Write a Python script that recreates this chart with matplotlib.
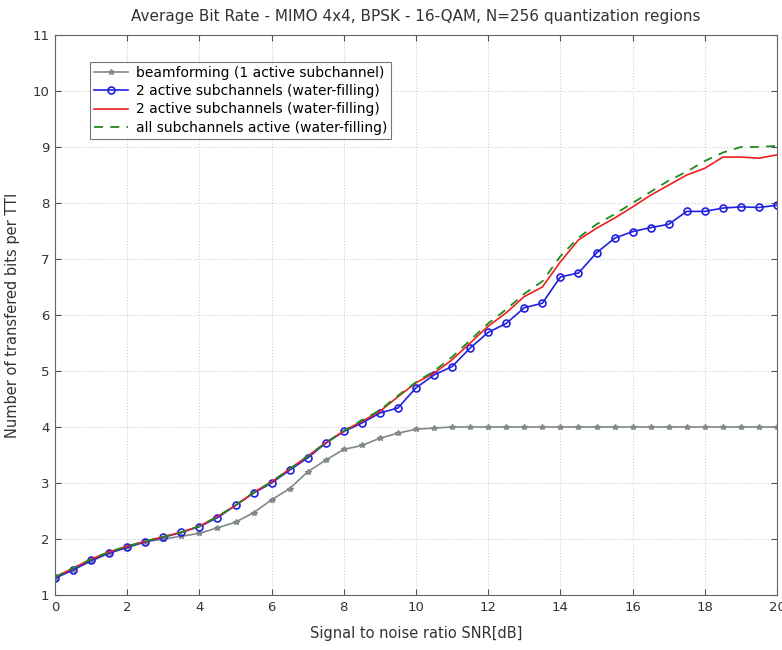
import numpy as np
import matplotlib
matplotlib.use("Agg")
import matplotlib.pyplot as plt

plt.rcParams['font.family'] = ['DejaVu Sans']

snr = [0, 0.5, 1, 1.5, 2, 2.5, 3, 3.5, 4, 4.5, 5, 5.5, 6, 6.5, 7, 7.5, 8, 8.5, 9, 9.5,
       10, 10.5, 11, 11.5, 12, 12.5, 13, 13.5, 14, 14.5, 15, 15.5, 16, 16.5, 17, 17.5,
       18, 18.5, 19, 19.5, 20]

beamforming = [1.30, 1.45, 1.60, 1.75, 1.85, 1.95, 2.00, 2.05, 2.10, 2.20, 2.30, 2.47, 2.70,
               2.90, 3.20, 3.41, 3.60, 3.67, 3.80, 3.89, 3.96, 3.98, 4.00, 4.00, 4.00, 4.00,
               4.00, 4.00, 4.00, 4.00, 4.00, 4.00, 4.00, 4.00, 4.00, 4.00, 4.00, 4.00, 4.00,
               4.00, 4.00]

two_active_bo = [1.30, 1.45, 1.62, 1.75, 1.85, 1.95, 2.03, 2.12, 2.22, 2.38, 2.60, 2.82, 3.00,
                 3.23, 3.45, 3.71, 3.92, 4.07, 4.25, 4.34, 4.70, 4.93, 5.08, 5.41, 5.69, 5.85,
                 6.13, 6.21, 6.68, 6.75, 7.11, 7.37, 7.49, 7.56, 7.62, 7.85, 7.85, 7.91, 7.93,
                 7.92, 7.96]

two_active_red = [1.32, 1.48, 1.64, 1.77, 1.87, 1.96, 2.04, 2.12, 2.23, 2.40, 2.60, 2.83, 3.02,
                  3.25, 3.48, 3.72, 3.93, 4.10, 4.28, 4.54, 4.79, 4.96, 5.20, 5.50, 5.80, 6.04,
                  6.33, 6.50, 6.95, 7.34, 7.55, 7.73, 7.93, 8.14, 8.32, 8.50, 8.62, 8.82, 8.82,
                  8.80, 8.86]

all_active = [1.32, 1.48, 1.64, 1.77, 1.87, 1.96, 2.04, 2.12, 2.23, 2.40, 2.60, 2.83, 3.02,
              3.25, 3.48, 3.72, 3.93, 4.12, 4.30, 4.56, 4.80, 5.00, 5.25, 5.55, 5.85, 6.10,
              6.38, 6.60, 7.05, 7.38, 7.62, 7.80, 8.00, 8.20, 8.40, 8.56, 8.75, 8.90, 9.00,
              9.00, 9.02]

labels = ['beamforming (1 active subchannel)',
          '2 active subchannels (water-filling)',
          '2 active subchannels (water-filling)',
          'all subchannels active (water-filling)']

fig = plt.figure(figsize=(7.82, 6.5), dpi=100)
ax = fig.add_axes([55/782, 1 - 595/650, (777-55)/782, (595-35)/650])

ax.plot(snr, beamforming, color='#808888', marker='*', markersize=4, linewidth=1.2, label=labels[0])
ax.plot(snr, two_active_bo, color='#2020e0', marker='o', markersize=5, markerfacecolor='none',
        markeredgewidth=1.2, linewidth=1.2, label=labels[1])
ax.plot(snr, two_active_red, color='#ee2020', linewidth=1.2, label=labels[2])
ax.plot(snr, all_active, color='#208a20', linestyle=(0, (5, 4)), linewidth=1.3, label=labels[3])

ax.set_xlim(0, 20)
ax.set_ylim(1, 11)
ax.set_xticks(range(0, 21, 2))
ax.set_yticks(range(1, 12))
ax.tick_params(direction='in', top=True, right=True, labelsize=9.5, length=4, color='#555555',
               labelcolor='#333333', pad=4)
ax.grid(True, color='#cfcfcf', linestyle=':', linewidth=0.8)
for s in ax.spines.values():
    s.set_color('#666666')
    s.set_linewidth(0.8)

ax.set_title('Average Bit Rate - MIMO 4x4, BPSK - 16-QAM, N=256 quantization regions',
             fontsize=11, pad=10, color='#333333')
ax.set_xlabel('Signal to noise ratio SNR[dB]', fontsize=10.5, labelpad=9, color='#333333')
ax.set_ylabel('Number of transfered bits per TTI', fontsize=10.5, labelpad=9, color='#333333')

leg = ax.legend(loc='upper left', bbox_to_anchor=((90-55)/722, (595-62)/560), fontsize=10,
                frameon=True, fancybox=False, borderpad=0.3, labelspacing=0.3,
                handlelength=2.4, handletextpad=0.6, borderaxespad=0)
leg.get_frame().set_edgecolor('#555555')
leg.get_frame().set_linewidth(0.8)

fig.savefig('out.png', dpi=100)
